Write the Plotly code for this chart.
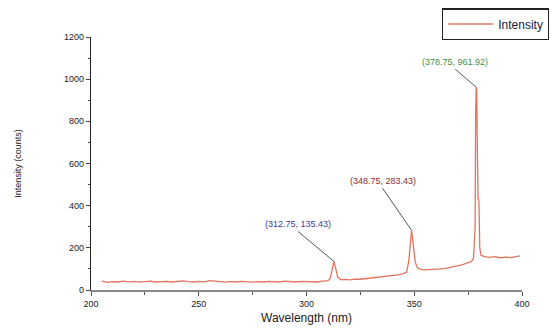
import plotly.graph_objects as go

wavelength = [205, 207.5, 210, 212.5, 215, 217.5, 220, 222.5, 225, 227.5, 230, 232.5, 235, 237.5,
              240, 242.5, 245, 247.5, 250, 252.5, 255, 257.5, 260, 262.5, 265, 267.5, 270, 272.5,
              275, 277.5, 280, 282.5, 285, 287.5, 290, 292.5, 295, 297.5, 300, 302.5, 305, 307.5,
              310, 311, 312, 312.75, 313.5, 314.5, 316, 318, 320, 322.5, 325, 327.5, 330, 332.5,
              335, 337.5, 340, 342.5, 345, 346.5, 347.5, 348.25, 348.75, 349.25, 349.75, 350.5,
              351.5, 353, 355, 357.5, 360, 362.5, 365, 367.5, 370, 372.5, 375, 376.5, 377.5,
              378.25, 378.5, 378.75, 379.0, 379.25, 379.6, 380.0, 380.4, 381, 382.5, 385, 387.5,
              390, 392.5, 395, 397.5, 399]
intensity = [42, 36, 40, 38, 42, 39, 41, 37, 40, 42, 38, 40, 41, 38,
             39, 43, 40, 38, 41, 39, 44, 42, 39, 37, 40, 38, 41, 39,
             37, 40, 38, 41, 39, 38, 42, 40, 38, 41, 39, 40, 38, 42,
             44, 55, 100, 135.43, 105, 60, 48, 50, 48, 52, 51, 54, 56, 58,
             61, 64, 68, 72, 78, 85, 140, 250, 283.43, 240, 200, 130,
             105, 98, 95, 96, 98, 100, 104, 108, 114, 120, 128, 135, 150,
             300, 850, 961.92, 950, 700, 440, 420, 200, 165, 158, 155, 158,
             153, 156, 154, 158, 162]

peak_x = [312.75, 348.75, 378.75]
peak_y = [135.43, 283.43, 961.92]
peak_labels = ["(312.75, 135.43)", "(348.75, 283.43)", "(378.75, 961.92)"]
peak_colors = ["#3d3d9e", "#8e2a2a", "#3f8f3f"]
label_offsets = [(-36, -30), (-29, -42), (-21, -18)]

fig = go.Figure()
fig.add_trace(go.Scatter(x=wavelength, y=intensity, mode="lines", name="Intensity",
                         line=dict(color="#e27460", width=1.3)))

for px, py, txt, col, (ax, ay) in zip(peak_x, peak_y, peak_labels, peak_colors, label_offsets):
    fig.add_annotation(x=px, y=py, text=txt, showarrow=True, arrowhead=0, arrowwidth=1,
                       arrowcolor="#555555", ax=ax, ay=ay, xanchor="center", yanchor="bottom",
                       font=dict(color=col, size=9, family="Liberation Sans"), standoff=0)

fig.update_layout(
    width=549, height=321,
    margin=dict(l=83, r=35, t=29, b=39, autoexpand=False),
    paper_bgcolor="white", plot_bgcolor="white",
    font=dict(family="Liberation Sans", size=9, color="#222222"),
    showlegend=True,
    legend=dict(xref="container", yref="container", x=0.79, y=1.0,
                xanchor="left", yanchor="top", bordercolor="#222222",
                borderwidth=1.5, bgcolor="white", font=dict(size=12, color="#222244"),
                itemwidth=45, tracegroupgap=0),
    xaxis=dict(range=[200, 400], tickvals=[200, 250, 300, 350, 400], showgrid=False,
               zeroline=False, showline=True, linecolor="#888888", linewidth=1.5,
               ticks="outside", ticklen=4, tickcolor="#555555", automargin=False,
               minor=dict(tickvals=[225, 275, 325, 375], ticks="outside", ticklen=3, tickcolor="#555555"),
               title=dict(text="Wavelength (nm)", font=dict(size=12), standoff=6)),
    yaxis=dict(range=[0, 1200], tickvals=[0, 200, 400, 600, 800, 1000, 1200], showgrid=False,
               zeroline=False, showline=True, linecolor="#222222", linewidth=1.2,
               ticks="outside", ticklen=4, tickcolor="#444444", automargin=False,
               minor=dict(tickvals=[100, 300, 500, 700, 900, 1100], ticks="outside", ticklen=2, tickcolor="#444444"),
               title=dict(text="Intensity (counts)", font=dict(size=9), standoff=40)),
)

fig.write_html("out.html")
